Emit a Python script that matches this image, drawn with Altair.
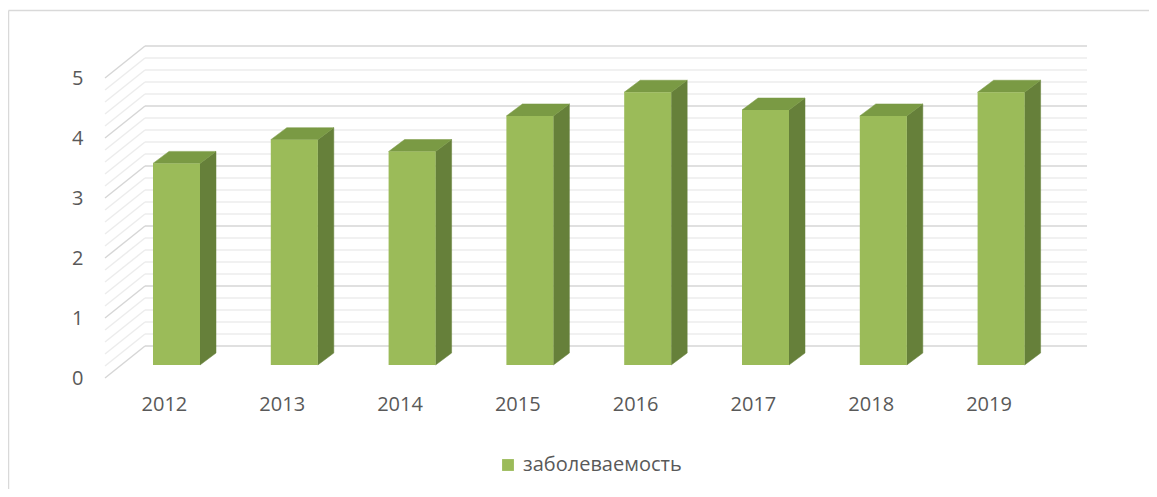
import altair as alt
import pandas as pd

# ---- data ----
years = ["2012", "2013", "2014", "2015", "2016", "2017", "2018", "2019"]
values = [3.4, 3.8, 3.6, 4.2, 4.6, 4.3, 4.2, 4.6]
series_name = "заболеваемость"
y_ticks = [0, 1, 2, 3, 4, 5]
grid_steps = [0.0, 0.2, 0.4, 0.6, 0.8, 1.0, 1.2, 1.4, 1.6, 1.8, 2.0, 2.2, 2.4,
              2.6, 2.8, 3.0, 3.2, 3.4, 3.6, 3.8, 4.0, 4.2, 4.4, 4.6, 4.8, 5.0]

# ---- projection geometry (axis units) ----
W, H = 982, 332
CAT = 117.8          # px per category
UNIT = 60.0          # px per value unit
X_MAX = W / CAT
Y_MAX = H / UNIT
WALL_DX = 40 / CAT
WALL_DY = 32 / UNIT
BAR_LEFT = 48 / CAT
BAR_W = 47 / CAT
BAR_DX = 16 / CAT
BAR_DY = 12 / UNIT
BAR_FLOOR = 13 / UNIT
BAR_K = 59.3 / 60.0

FONT = "Open Sans"
TXT = "#595959"
FRONT = "#9BBB59"
SIDE = "#66803A"
TOP = "#7A9A44"

bars = pd.DataFrame({"year": years, "idx": list(range(len(years))),
                     "value": values, "series": series_name})
grid = pd.DataFrame({"v": grid_steps})
grid["major"] = [abs(v - round(v)) < 1e-9 for v in grid_steps]

label_expr = "[" + ",".join("'%s'" % y for y in years) + "][floor(datum.value)]"

xs = alt.Scale(domain=[0, X_MAX], nice=False, zero=False)
ys = alt.Scale(domain=[0, Y_MAX], nice=False, zero=False)
xaxis = alt.Axis(values=[i + 0.5 for i in range(len(years))], labelExpr=label_expr,
                 grid=False, ticks=False, domain=False, title=None,
                 labelFont=FONT, labelFontSize=20, labelColor=TXT, labelPadding=16)
yaxis = alt.Axis(values=y_ticks, grid=False, ticks=False, domain=False, title=None,
                 labelFont=FONT, labelFontSize=20, labelColor=TXT, labelPadding=22)


def X(f):
    return alt.X(f, type="quantitative", scale=xs, axis=xaxis)


def Y(f):
    return alt.Y(f, type="quantitative", scale=ys, axis=yaxis)


def X2(f):
    return alt.X2(f)


def Y2(f):
    return alt.Y2(f)


base_grid = alt.Chart(grid).transform_calculate(
    xa="0", xb=str(WALL_DX), xe=str(X_MAX),
    ya="datum.v", yb="datum.v + %f" % WALL_DY)

layers = []
for is_major, col, sw in [(False, "#ECECEC", 1.4), (True, "#D6D6D6", 1.4)]:
    g = base_grid.transform_filter(
        "datum.major" if is_major else "!datum.major")
    layers.append(g.mark_rule(color=col, strokeWidth=sw).encode(
        x=X("xa:Q"), x2=X2("xb:Q"), y=Y("ya:Q"), y2=Y2("yb:Q")))
    layers.append(g.mark_rule(color=col, strokeWidth=sw).encode(
        x=X("xb:Q"), x2=X2("xe:Q"), y=Y("yb:Q")))

bar_base = alt.Chart(bars).transform_calculate(
    xl="datum.idx + %f" % BAR_LEFT,
    xr="datum.idx + %f" % (BAR_LEFT + BAR_W),
    y0=str(BAR_FLOOR),
    yt="%f + datum.value * %f" % (BAR_FLOOR, BAR_K))

side = bar_base.transform_calculate(
    sx="[datum.xr, datum.xr + %f]" % BAR_DX,
    sy="[datum.y0, datum.y0 + %f]" % BAR_DY,
    sy2="[datum.yt, datum.yt + %f]" % BAR_DY,
).transform_flatten(["sx", "sy", "sy2"]).mark_area(
    color=SIDE, stroke=SIDE, strokeWidth=0.5, interpolate="linear"
).encode(x=X("sx:Q"), y=Y("sy:Q"), y2=Y2("sy2:Q"), detail="year:N")

top = bar_base.transform_calculate(
    tx="[datum.xl, datum.xl + %f, datum.xr, datum.xr + %f]" % (BAR_DX, BAR_DX),
    ty="[datum.yt, datum.yt, datum.yt, datum.yt + %f]" % BAR_DY,
    ty2="[datum.yt, datum.yt + %f, datum.yt + %f, datum.yt + %f]" % (BAR_DY, BAR_DY, BAR_DY),
).transform_flatten(["tx", "ty", "ty2"]).mark_area(
    color=TOP, stroke=TOP, strokeWidth=0.5, interpolate="linear"
).encode(x=X("tx:Q"), y=Y("ty:Q"), y2=Y2("ty2:Q"), detail="year:N")

front = bar_base.mark_rect().encode(
    x=X("xl:Q"), x2=X2("xr:Q"), y=Y("y0:Q"), y2=Y2("yt:Q"),
    color=alt.Color("series:N",
                    scale=alt.Scale(domain=[series_name], range=[FRONT]),
                    legend=alt.Legend(title=None, orient="none", legendX=393,
                                      legendY=409, symbolType="square",
                                      symbolSize=140, symbolStrokeWidth=0,
                                      labelFont=FONT, labelFontSize=20,
                                      labelColor=TXT, labelOffset=5, padding=0)))

one = pd.DataFrame({"k": [0]})
border_top = alt.Chart(one).mark_rule(color="#D9D9D9", strokeWidth=1.5).encode(
    x=alt.value(-96.5), x2=alt.value(1060), y=alt.value(-35.5))
border_left = alt.Chart(one).mark_rule(color="#D9D9D9", strokeWidth=1.5).encode(
    x=alt.value(-96.5), y=alt.value(-35.5), y2=alt.value(460))

chart = alt.layer(*layers, side, top, front, border_top, border_left).properties(
    width=W, height=H,
    padding={"left": 97, "top": 38, "right": 62, "bottom": 111},
    autosize=alt.AutoSizeParams(type="none"),
).configure_view(stroke=None)

chart.save("out.html", embed_options={"renderer": "svg", "actions": False})
